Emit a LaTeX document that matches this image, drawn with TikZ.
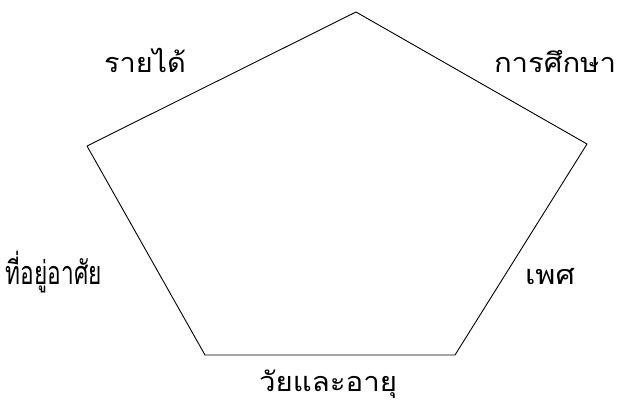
\documentclass[tikz,border=0pt]{standalone}
\usepackage{graphicx}
\usepackage{fontspec}
\newfontfamily\thaifont[Script=Thai]{Loma}
\newcommand{\fitw}[3][1]{\resizebox{#2pt}{#1\height}{#3}}
\begin{document}
\begin{tikzpicture}[x=1pt,y=-1pt,
  edge/.style={draw=black,line width=0.9pt,line join=round},
  lbl/.style={font=\thaifont\fontsize{27}{30}\selectfont,inner sep=0pt,anchor=base}]
\useasboundingbox (0,0) rectangle (620,405);
\coordinate (t) at (356,12);
\coordinate (r) at (587,144);
\coordinate (br) at (455,355);
\coordinate (bl) at (205,355);
\coordinate (l) at (87,146);
\draw[edge] (t) -- (r) -- (br) -- (bl) -- (l) -- cycle;
\node[lbl] (a) at (145,72) {\fitw{82}{รายได้}};
\node[lbl] (b) at (555,72) {\fitw{122}{การศึกษา}};
\node[lbl] (c) at (54,284) {\fitw[1.2]{96}{ที่อยู่อาศัย}};
\node[lbl] (d) at (550,284) {\fitw{50}{เพศ}};
\node[lbl] (e) at (328,391) {\fitw{138}{วัยและอายุ}};
\end{tikzpicture}
\end{document}
